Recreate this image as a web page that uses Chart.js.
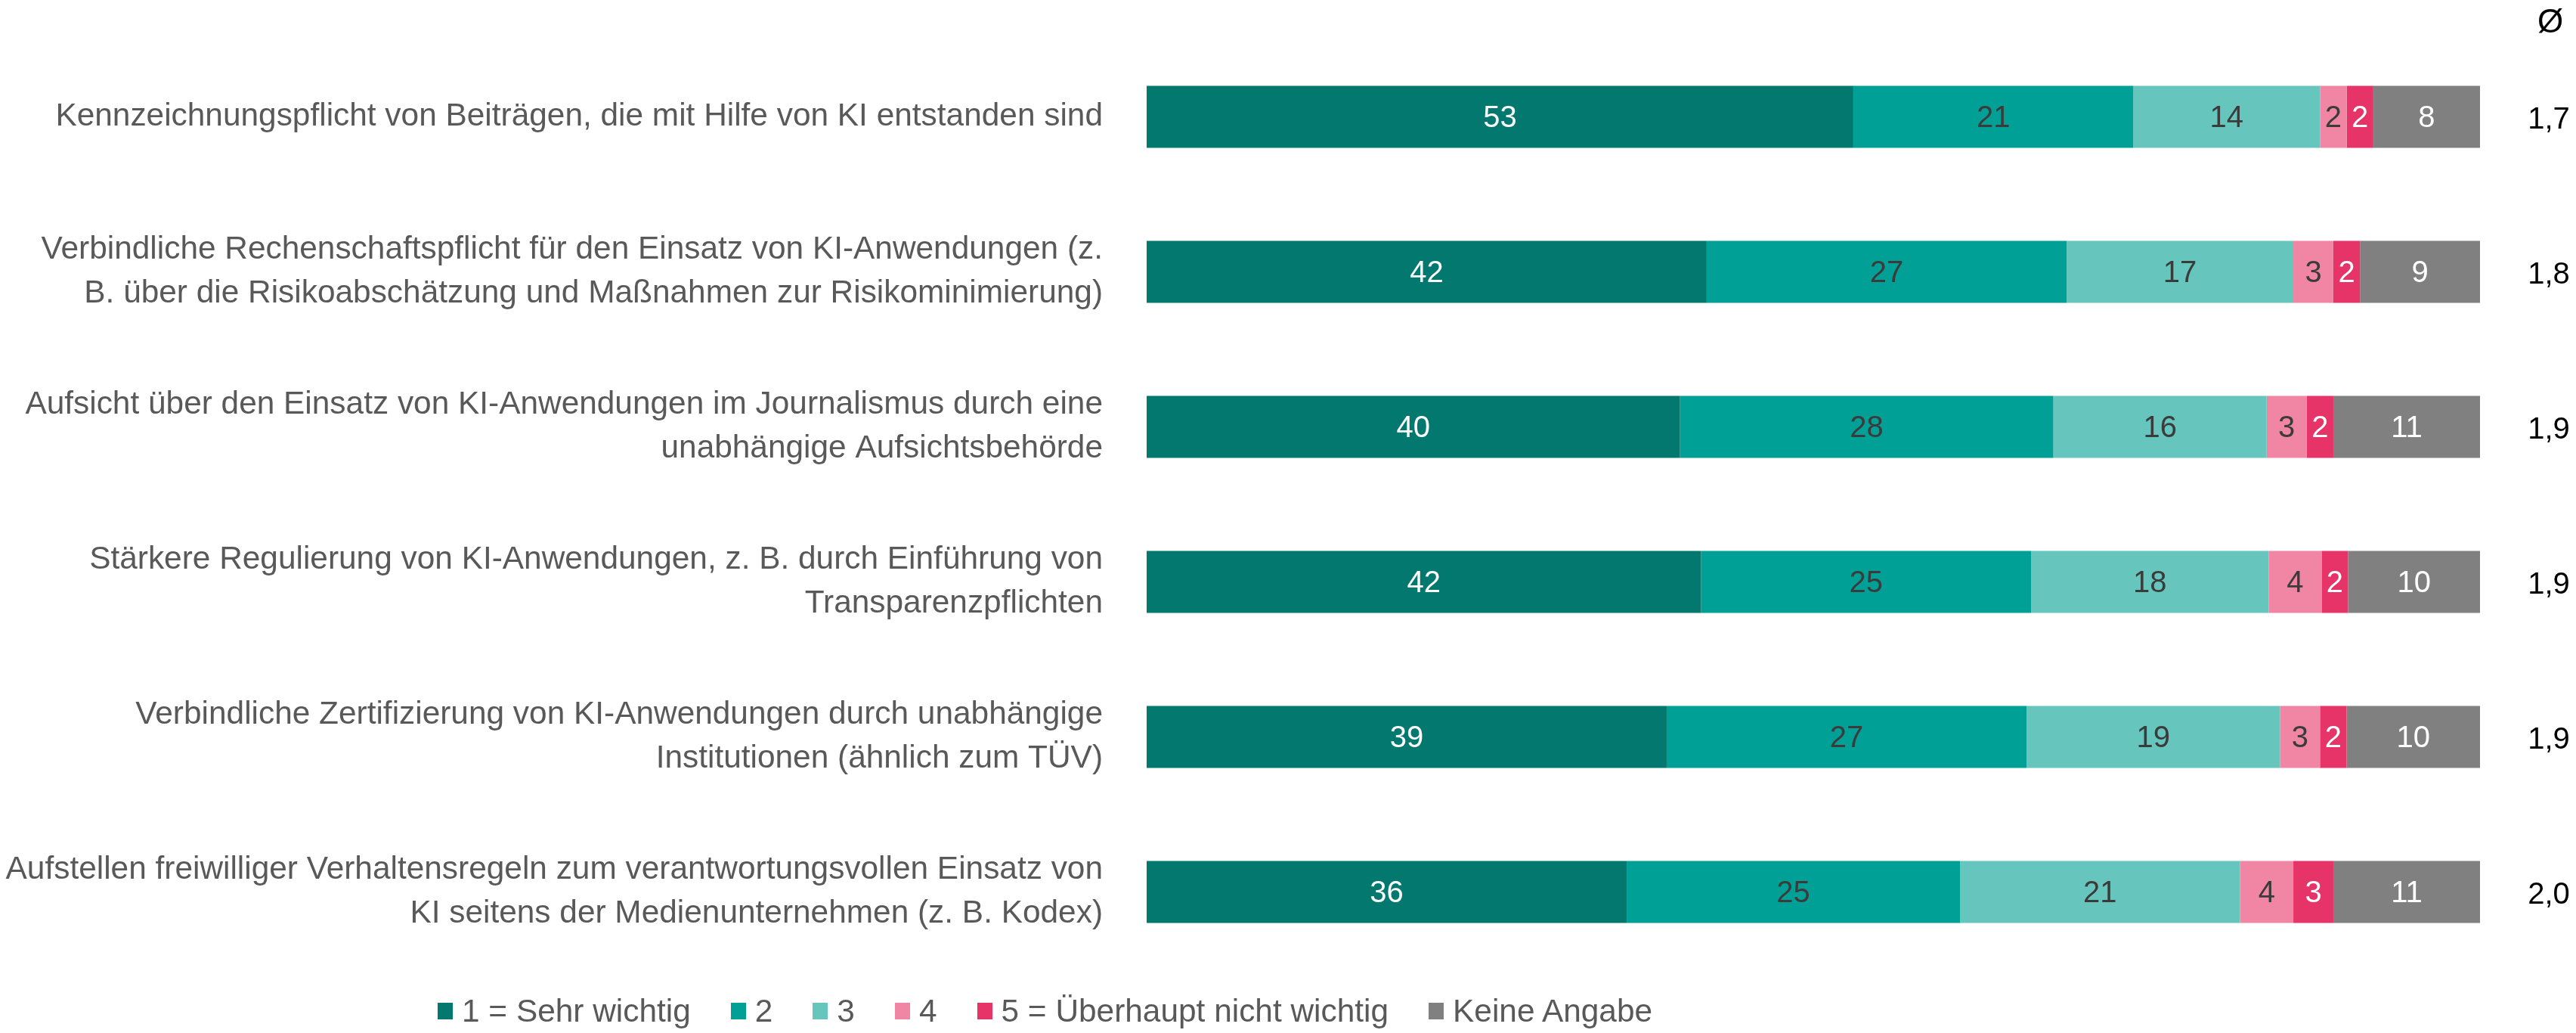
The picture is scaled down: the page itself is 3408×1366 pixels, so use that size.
<!DOCTYPE html>
<html>
<head>
<meta charset="utf-8">
<script src="https://cdn.jsdelivr.net/npm/chart.js@4.4.1/dist/chart.umd.min.js"></script>
<style>
  html, body { margin: 0; padding: 0; background: #fff; }
  #wrap { position: relative; width: 3408px; height: 1366px; }
  #legend {
    position: absolute; left: 579px; top: 1314px;
    display: flex; white-space: nowrap;
    font-family: "Liberation Sans", Arial, sans-serif;
    font-size: 42.4px; line-height: 46px; color: #595959;
  }
  .item { display: flex; align-items: center; margin-right: 53px; }
  .box { width: 20px; height: 22px; margin-right: 12px; }
</style>
</head>
<body>
<div id="wrap">
  <canvas id="myChart" width="3408" height="1366"></canvas>
  <div id="legend"></div>
</div>
<script>
var categories = [
  ["Kennzeichnungspflicht von Beiträgen, die mit Hilfe von KI entstanden sind"],
  ["Verbindliche Rechenschaftspflicht für den Einsatz von KI-Anwendungen (z.", "B. über die Risikoabschätzung und Maßnahmen zur Risikominimierung)"],
  ["Aufsicht über den Einsatz von KI-Anwendungen im Journalismus durch eine", "unabhängige Aufsichtsbehörde"],
  ["Stärkere Regulierung von KI-Anwendungen, z. B. durch Einführung von", "Transparenzpflichten"],
  ["Verbindliche Zertifizierung von KI-Anwendungen durch unabhängige", "Institutionen (ähnlich zum TÜV)"],
  ["Aufstellen freiwilliger Verhaltensregeln zum verantwortungsvollen Einsatz von", "KI seitens der Medienunternehmen (z. B. Kodex)"]
];

var seriesNames  = ["1 = Sehr wichtig", "2", "3", "4", "5 = Überhaupt nicht wichtig", "Keine Angabe"];
var sehrWichtig  = [53, 42, 40, 42, 39, 36];
var stufe2       = [21, 27, 28, 25, 27, 25];
var stufe3       = [14, 17, 16, 18, 19, 21];
var stufe4       = [2, 3, 3, 4, 3, 4];
var nichtWichtig = [2, 2, 2, 2, 2, 3];
var keineAngabe  = [8, 9, 11, 10, 10, 11];
var averages     = ["1,7", "1,8", "1,9", "1,9", "1,9", "2,0"];

var barColors   = ["#03786E", "#00A096", "#66C6BE", "#F086A3", "#E73468", "#808080"];
var labelColors = ["#ffffff", "#3b3b3b", "#3b3b3b", "#3b3b3b", "#ffffff", "#ffffff"];

var series = [sehrWichtig, stufe2, stufe3, stufe4, nichtWichtig, keineAngabe];
var font = '"Liberation Sans", Arial, sans-serif';

// rows are drawn as 100 % bars (one row adds up to 101)
var rowTotals = categories.map(function(c, j) {
  return series.reduce(function(s, arr) { return s + arr[j]; }, 0);
});

var datasets = series.map(function(values, i) {
  return {
    label: seriesNames[i],
    raw: values,
    data: values.map(function(v, j) { return v / rowTotals[j] * 100; }),
    backgroundColor: barColors[i],
    borderWidth: 0,
    categoryPercentage: 1,
    barPercentage: 0.4
  };
});

var valueLabels = {
  id: 'valueLabels',
  afterDatasetsDraw: function(chart) {
    var ctx = chart.ctx,
        yScale = chart.scales.y,
        colX = chart.chartArea.right + 91;

    ctx.save();
    ctx.textAlign = 'center';
    ctx.textBaseline = 'middle';
    ctx.font = '40px ' + font;
    chart.data.datasets.forEach(function(ds, i) {
      chart.getDatasetMeta(i).data.forEach(function(bar, j) {
        ctx.fillStyle = labelColors[i];
        ctx.fillText(ds.raw[j], (bar.x + bar.base) / 2, bar.y + 2);
      });
    });

    ctx.fillStyle = '#000000';
    ctx.font = '44px ' + font;
    ctx.fillText('Ø', colX + 2, 31);
    ctx.font = '40px ' + font;
    averages.forEach(function(a, j) {
      ctx.fillText(a, colX, yScale.getPixelForValue(j) + 4);
    });
    ctx.restore();
  }
};

var myChart = new Chart(document.getElementById('myChart'), {
  type: 'bar',
  data: { labels: categories, datasets: datasets },
  options: {
    responsive: false,
    devicePixelRatio: 1,
    animation: false,
    indexAxis: 'y',
    layout: { padding: { left: 0, right: 127, top: 52, bottom: 84 } },
    plugins: { legend: { display: false }, tooltip: { enabled: false } },
    scales: {
      x: { stacked: true, min: 0, max: 100, display: false },
      y: {
        stacked: true,
        grid: { display: false, drawTicks: false },
        border: { display: false },
        ticks: {
          padding: 58,
          color: '#595959',
          font: { family: font, size: 42.4, lineHeight: 1.37 }
        },
        afterFit: function(scale) {
          scale.width = 1517;
          scale.paddingTop = 0;
          scale.paddingBottom = 0;
        }
      }
    }
  },
  plugins: [valueLabels]
});

// legend
var legend = document.getElementById('legend');
seriesNames.forEach(function(name, i) {
  var item = document.createElement('div'),
      box  = document.createElement('span'),
      txt  = document.createElement('span');
  item.className = 'item';
  box.className = 'box';
  box.style.background = barColors[i];
  txt.textContent = name;
  item.appendChild(box);
  item.appendChild(txt);
  legend.appendChild(item);
});
</script>
</body>
</html>
